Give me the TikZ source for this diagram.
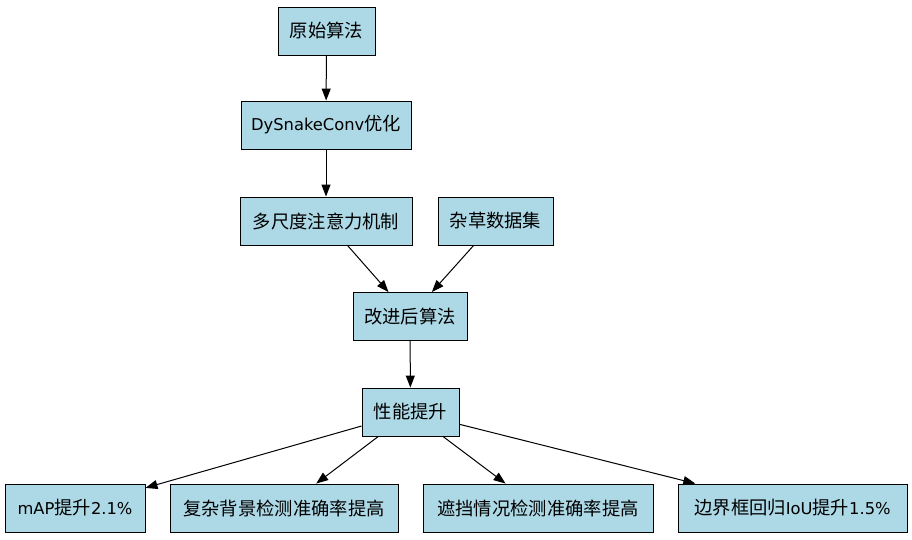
\documentclass[tikz,border=0pt]{standalone}
\usepackage{fontspec}
\setmainfont{Noto Sans CJK SC}
\newfontfamily\latf{DejaVu Sans}
\newcommand{\lat}{\latf\fontsize{16.3}{18}\selectfont}
\usetikzlibrary{arrows.meta}
\definecolor{lblue}{RGB}{173,216,230}
\begin{document}
\begin{tikzpicture}[x=1pt,y=1pt,
  box/.style={draw=black, fill=lblue, line width=0.9pt, minimum height=48pt, inner sep=0pt,
    font=\fontsize{18.3}{20}\selectfont},
  arr/.style={line width=1pt, -{Triangle[length=12pt,width=9pt]}}]
\useasboundingbox (0,0) rectangle (912,539);
\node[box, minimum width=97pt] (a) at (326.5,508) {原始算法};
\node[box, minimum width=170pt] (b) at (326,414) {{\lat DySnakeConv}优化};
\node[box, minimum width=172pt] (c1) at (326,318) {多尺度注意力机制};
\node[box, minimum width=115pt] (c2) at (495.5,318) {杂草数据集};
\node[box, minimum width=114pt] (d) at (410,222.5) {改进后算法};
\node[box, minimum width=97pt] (e) at (410.5,127) {性能提升};
\node[box, minimum width=140pt] (f1) at (75,31) {{\lat mAP}提升{\lat 2.1\%}};
\node[box, minimum width=228pt] (f2) at (284,31) {复杂背景检测准确率提高};
\node[box, minimum width=230pt] (f3) at (538,31) {遮挡情况检测准确率提高};
\node[box, minimum width=229pt] (f4) at (792.5,31) {边界框回归{\lat IoU}提升{\lat 1.5\%}};
\draw[arr] (a) -- (b);
\draw[arr] (b) -- (c1);
\draw[arr] (c1) -- (d);
\draw[arr] (c2) -- (d);
\draw[arr] (d) -- (e);
\draw[arr] (e) -- (f1);
\draw[arr] (e) -- (f2);
\draw[arr] (e) -- (f3);
\draw[arr] (e) -- (f4);
\end{tikzpicture}
\end{document}
